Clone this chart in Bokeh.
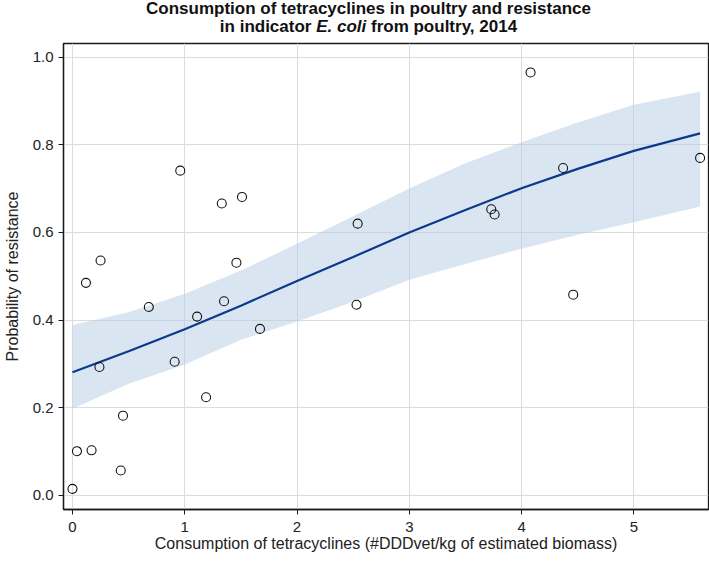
from bokeh.plotting import figure
from bokeh.models import Range1d, FixedTicker, Div
from bokeh.layouts import column
from bokeh.embed import file_html
from bokeh.resources import INLINE

# ---- data ----
consumption = [0.00, 0.04, 0.17, 0.43, 0.45, 0.24, 0.12, 0.25, 0.68, 0.91, 0.96, 1.11, 1.19,
               1.33, 1.35, 1.46, 1.51, 1.67, 2.53, 2.54, 3.73, 3.76, 4.08, 4.37, 4.46, 5.59]
resistance = [0.015, 0.101, 0.103, 0.057, 0.182, 0.293, 0.485, 0.536, 0.430, 0.305, 0.741, 0.408, 0.224,
              0.666, 0.443, 0.531, 0.681, 0.380, 0.435, 0.620, 0.653, 0.641, 0.965, 0.747, 0.458, 0.770]

fit_x = [0.0, 0.5, 1.0, 1.5, 2.0, 2.5, 3.0, 3.5, 4.0, 4.5, 5.0, 5.59]
fit_p = [0.281, 0.329, 0.379, 0.433, 0.489, 0.544, 0.600, 0.651, 0.701, 0.745, 0.786, 0.826]
fit_lower = [0.198, 0.255, 0.299, 0.355, 0.397, 0.442, 0.492, 0.528, 0.563, 0.595, 0.623, 0.659]
fit_upper = [0.389, 0.418, 0.460, 0.513, 0.574, 0.637, 0.700, 0.758, 0.806, 0.851, 0.891, 0.921]

x_ticks = [0, 1, 2, 3, 4, 5]
y_ticks = [0.0, 0.2, 0.4, 0.6, 0.8, 1.0]
y_tick_labels = ["0.0", "0.2", "0.4", "0.6", "0.8", "1.0"]

title_line1 = "Consumption of tetracyclines in poultry and resistance"
title_line2 = ["in indicator", "E. coli", "from poultry, 2014"]
x_label = "Consumption of tetracyclines (#DDDvet/kg of estimated biomass)"
y_label = "Probability of resistance"

FONT = "Liberation Sans"
TXT = "#222222"

# ---- title (two lines, species name in italics) ----
title_html = (
    '<div style="font-family: \'Liberation Sans\', Arial, sans-serif; font-size: 17px; '
    'font-weight: bold; color: #111111; text-align: center; line-height: 18px; '
    'margin: 0; padding: 0; white-space: nowrap;">'
    + title_line1 + "<br>" + title_line2[0] + " <i>" + title_line2[1] + "</i> "
    + title_line2[2] + "</div>"
)
title_div = Div(text=title_html, width=564, height=36, margin=(0, 0, 0, 146))

# ---- plot ----
p = figure(width=709, height=528, output_backend="svg", toolbar_location=None,
           x_range=Range1d(-0.080, 5.665), y_range=Range1d(-0.032, 1.031),
           min_border_left=63, min_border_right=1, min_border_top=7, min_border_bottom=55)

p.background_fill_color = "white"
p.border_fill_color = "white"
p.outline_line_color = "#1a1a1a"
p.outline_line_width = 1.3

# confidence band, fit line, observations
p.varea(x=fit_x, y1=fit_lower, y2=fit_upper, fill_color="#b6cce6", fill_alpha=0.5)
p.line(x=fit_x, y=fit_p, line_color="#0b3a8c", line_width=2.2)
p.scatter(x=consumption, y=resistance, marker="circle", size=9,
          fill_alpha=0, line_color="#111111", line_width=1.1)

# axes
for ax in (p.xaxis, p.yaxis):
    ax.axis_line_color = "#1a1a1a"
    ax.axis_line_width = 1.3
    ax.major_tick_line_color = "#1a1a1a"
    ax.major_tick_in = 0
    ax.major_tick_out = 5
    ax.minor_tick_line_color = None
    ax.major_label_text_font = FONT
    ax.major_label_text_font_size = "15px"
    ax.major_label_text_color = TXT
    ax.axis_label_text_font = FONT
    ax.axis_label_text_font_size = "16px"
    ax.axis_label_text_font_style = "normal"
    ax.axis_label_text_color = TXT

p.xaxis.ticker = FixedTicker(ticks=x_ticks)
p.yaxis.ticker = FixedTicker(ticks=y_ticks)
p.yaxis.major_label_overrides = {t: s for t, s in zip(y_ticks, y_tick_labels)}
p.xaxis.axis_label = x_label
p.yaxis.axis_label = y_label
p.xaxis.major_label_standoff = 7
p.xaxis.axis_label_standoff = 0
p.yaxis.major_label_standoff = 5
p.yaxis.axis_label_standoff = 9

p.xgrid.ticker = FixedTicker(ticks=x_ticks)
p.ygrid.ticker = FixedTicker(ticks=y_ticks)
p.grid.grid_line_color = "#dcdcdc"
p.grid.grid_line_width = 1

layout = column(title_div, p, spacing=0, margin=0)
open("out.html", "w").write(file_html(layout, INLINE))
